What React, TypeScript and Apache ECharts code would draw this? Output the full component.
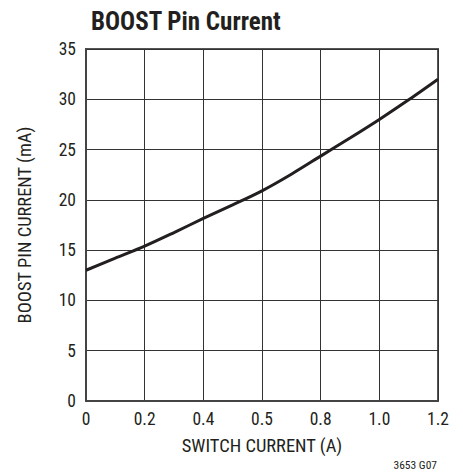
import React, { useEffect, useRef } from "react";
import * as echarts from "echarts";

const xValues = [0, 0.1, 0.2, 0.3, 0.4, 0.5, 0.6, 0.7, 0.8, 0.9, 1.0, 1.1, 1.2];
const boostCurrent = [13.0, 14.2, 15.4, 16.75, 18.15, 19.5, 20.9, 22.55, 24.35, 26.15, 28.0, 29.95, 32.0];
const xTickLabels = ["0", "0.2", "0.4", "0.5", "0.8", "1.0", "1.2"];
const yTickLabels = ["0", "5", "10", "15", "20", "25", "30", "35"];

const FONT = "'Liberation Sans Narrow', 'Arial Narrow', 'Roboto Condensed', 'Liberation Sans', sans-serif";

export default function App() {
  const ref = useRef<HTMLDivElement>(null);
  useEffect(() => {
    if (!ref.current) return;
    const chart = echarts.init(ref.current, undefined, { renderer: "svg" });
    chart.setOption({
      animation: false,
      backgroundColor: "#ffffff",
      title: {
        text: "BOOST Pin Current",
        left: 86,
        top: 4,
        textStyle: { fontFamily: FONT, fontWeight: "bold", fontSize: 25, color: "#231f20" },
      },
      grid: {
        left: 86,
        right: 25,
        top: 49,
        bottom: 71,
        show: true,
        borderColor: "#555",
        borderWidth: 2,
      },
      xAxis: {
        type: "value",
        min: 0,
        max: 1.2,
        interval: 0.2,
        name: "SWITCH CURRENT (A)",
        nameLocation: "middle",
        nameGap: 35,
        nameTextStyle: { fontFamily: FONT, fontSize: 18.5, color: "#231f20" },
        axisLine: { show: true, lineStyle: { color: "#444", width: 2 } },
        axisTick: { show: false },
        axisLabel: {
          fontFamily: FONT,
          fontSize: 17.5,
          color: "#231f20",
          margin: 9,
          formatter: (v: number) => xTickLabels[Math.round(v / 0.2)] ?? "",
        },
        splitLine: { show: true, lineStyle: { color: "#333", width: 1 } },
      },
      yAxis: {
        type: "value",
        min: 0,
        max: 35,
        interval: 5,
        name: "BOOST PIN CURRENT (mA)",
        nameLocation: "middle",
        nameRotate: 90,
        nameGap: 52,
        nameTextStyle: { fontFamily: FONT, fontSize: 18.5, color: "#231f20" },
        axisLine: { show: true, lineStyle: { color: "#444", width: 2 } },
        axisTick: { show: false },
        axisLabel: {
          fontFamily: FONT,
          fontSize: 17.5,
          color: "#231f20",
          margin: 10,
          formatter: (v: number) => yTickLabels[Math.round(v / 5)] ?? "",
        },
        splitLine: { show: true, lineStyle: { color: "#333", width: 1 } },
      },
      graphic: [
        {
          type: "text",
          right: 26,
          top: 459,
          style: { text: "3653 G07", fontFamily: FONT, fontSize: 11.5, fill: "#231f20" },
        },
      ],
      series: [
        {
          type: "line",
          data: xValues.map((x, i) => [x, boostCurrent[i]]),
          smooth: 0.3,
          showSymbol: false,
          lineStyle: { color: "#231f20", width: 3 },
        },
      ],
    });
    return () => chart.dispose();
  }, []);
  return <div ref={ref} style={{ width: 463, height: 472, position: "absolute", left: 0, top: 0 }} />;
}
